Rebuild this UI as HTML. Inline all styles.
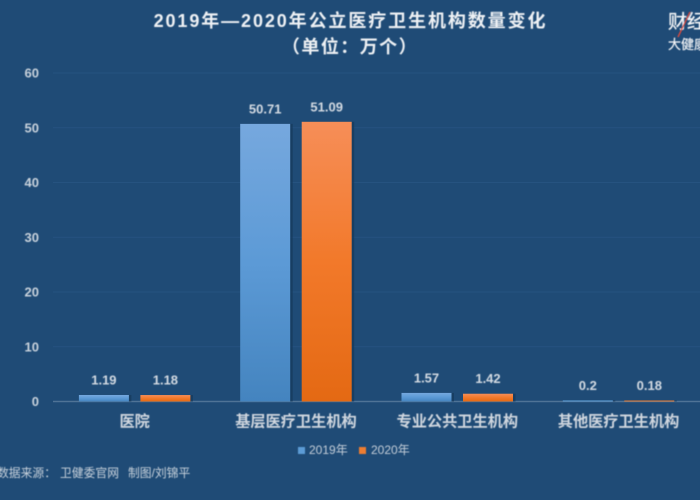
<!DOCTYPE html>
<html>
<head>
<meta charset="utf-8">
<style>
html,body{margin:0;padding:0;background:#1f4b76;}
svg{display:block;font-family:"Liberation Sans","Noto Sans CJK SC",sans-serif;}
</style>
</head>
<body>
<svg id="chart" width="700" height="500" viewBox="0 0 700 500" xmlns="http://www.w3.org/2000/svg">
  <defs>
    <linearGradient id="blueGrad" x1="0" y1="0" x2="0" y2="1">
      <stop offset="0" stop-color="#76a8de"/><stop offset="0.5" stop-color="#5c9ad6"/><stop offset="1" stop-color="#4484bf"/>
    </linearGradient>
    <linearGradient id="orangeGrad" x1="0" y1="0" x2="0" y2="1">
      <stop offset="0" stop-color="#f68e58"/><stop offset="0.5" stop-color="#f2792a"/><stop offset="1" stop-color="#e46913"/>
    </linearGradient>
    <filter id="soft" x="-5%" y="-5%" width="110%" height="110%"><feGaussianBlur stdDeviation="0.45"/></filter>
  </defs>
  <rect width="700" height="500" fill="#1f4b76"/>
  <g id="plot"></g>
  <g filter="url(#soft)">
    <text x="350.5" y="27" text-anchor="middle" font-size="18" font-weight="bold" letter-spacing="1.9" fill="#eef1f4">2019年—2020年公立医疗卫生机构数量变化</text>
    <text x="350" y="53" text-anchor="middle" font-size="18" font-weight="bold" letter-spacing="1.45" fill="#eef1f4">（单位：万个）</text>
    <g>
      <rect x="298" y="447" width="7" height="7" fill="#5b9bd5"/>
      <text x="309" y="454" font-size="12" fill="#c3cdd8">2019年</text>
      <rect x="359" y="447" width="7" height="7" fill="#ed7d31"/>
      <text x="371" y="454" font-size="12" fill="#c3cdd8">2020年</text>
    </g>
    <g font-size="11.8" fill="#c8d2dc">
      <text x="-3" y="477">数据来源：</text>
      <text x="60" y="477">卫健委官网</text>
      <text x="128" y="477">制图/刘锦平</text>
    </g>
    <g>
      <text x="668" y="28" font-size="19" fill="#f4f6f8" stroke="#f4f6f8" stroke-width="0.3">财经</text>
      <line x1="678" y1="37" x2="690" y2="12" stroke="#e0483a" stroke-width="1.4"/>
      <text x="668" y="49" font-size="13" fill="#f4f6f8" stroke="#f4f6f8" stroke-width="0.2">大健康</text>
    </g>
  </g>
</svg>
<script>
const categories = ['医院', '基层医疗卫生机构', '专业公共卫生机构', '其他医疗卫生机构'];
const values2019 = [1.19, 50.71, 1.57, 0.2];
const values2020 = [1.18, 51.09, 1.42, 0.18];
const yTicks = [0, 10, 20, 30, 40, 50, 60];

const NS = 'http://www.w3.org/2000/svg';
const plot = document.getElementById('plot');
const axisLeft = 53, axisRight = 700, yBase = 401.5, yTop = 73;
const groupStart = 54, groupStep = 161.3, barW = 50, barGap = 11.5;
const yScale = v => yBase - (v / 60) * (yBase - yTop);
const xCenter = i => groupStart + groupStep * (i + 0.5);

function make(tag, attrs, text) {
  const el = document.createElementNS(NS, tag);
  for (const k in attrs) el.setAttribute(k, attrs[k]);
  if (text !== undefined) el.textContent = text;
  plot.appendChild(el);
  return el;
}

yTicks.forEach(t => {
  const isBase = t === 0;
  const line = make('line', {x1: axisLeft, x2: axisRight, y1: yScale(t), y2: yScale(t), stroke: isBase ? '#4f7396' : '#265380', 'stroke-width': isBase ? 1.5 : 1});
  
  
  const label = make('text', {x: 39, y: yScale(t) + 4.5, 'text-anchor': 'end', 'font-size': 13, 'font-weight': 'bold', fill: '#c8d2dc', filter: 'url(#soft)'}, String(t));
  
  
});

function drawBar(v, x, fill, accent) {
  const y = yScale(v), h = yBase - y;
  const shadow = make('rect', {x: x + 1, y: y, width: barW + 1.5, height: h, fill: '#173a5c', opacity: 0.75});
  
  
  const bar = make('rect', {x: x, y: y, width: barW, height: h, fill: h > 3 ? fill : accent});
  
  
  const label = make('text', {x: x + barW / 2, y: y - 10.5, 'text-anchor': 'middle', 'font-size': 13, 'font-weight': 'bold', fill: '#d3dae2', filter: 'url(#soft)'}, String(v));
  
  
}

categories.forEach((c, i) => {
  const cx = xCenter(i);
  drawBar(values2019[i], cx - barGap / 2 - barW, 'url(#blueGrad)', '#5b9bd5');
  drawBar(values2020[i], cx + barGap / 2, 'url(#orangeGrad)', '#ed7d31');
  const label = make('text', {x: cx, y: 426.5, 'text-anchor': 'middle', 'font-size': 15.2, 'font-weight': 'bold', fill: '#d0d7df', filter: 'url(#soft)'}, c);
  
  
});
</script>
</body>
</html>
